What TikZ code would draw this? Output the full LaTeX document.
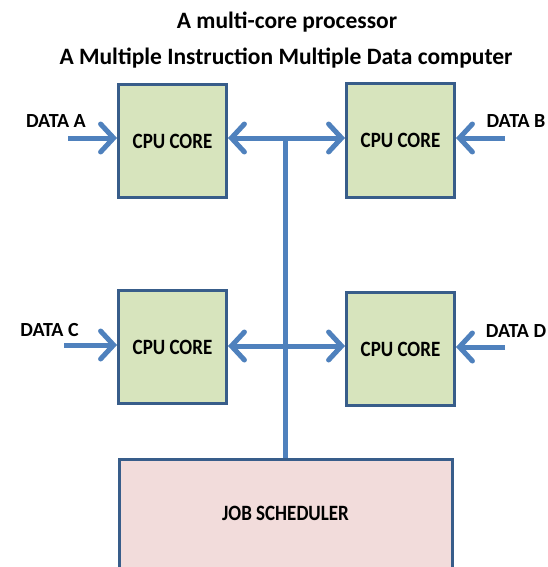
\documentclass[tikz,border=0pt]{standalone}
\usepackage{fontspec}
\setmainfont{Carlito}
\usetikzlibrary{arrows.meta}
\definecolor{corefill}{HTML}{D7E4BD}
\definecolor{jobfill}{HTML}{F2DCDB}
\definecolor{edge}{HTML}{385D8A}
\definecolor{flow}{HTML}{4F81BD}
\newcommand{\tallbox}[1]{\scalebox{1}[1.15]{#1}}
\tikzset{
  core/.style={draw=edge, line width=3pt, fill=corefill, minimum width=108pt, minimum height=113pt, inner sep=0pt, font=\bfseries\fontsize{19}{21}\selectfont},
  jobbox/.style={draw=edge, line width=3pt, fill=jobfill, minimum width=333pt, minimum height=130pt, inner sep=0pt},
  lbl/.style={font=\bfseries\fontsize{19}{21}\selectfont, inner sep=0pt},
  datalbl/.style={font=\bfseries\fontsize{20}{22}\selectfont, inner sep=0pt},
  ttl/.style={font=\bfseries\fontsize{23.5}{26}\selectfont, inner sep=0pt},
  flowarrow/.style={draw=flow, line width=5pt, -{Straight Barb[length=13pt, width=28pt, line cap=round]}},
  busline/.style={draw=flow, line width=5pt}
}
\begin{document}
\begin{tikzpicture}[x=1pt, y=-1pt]
\useasboundingbox (0,0) rectangle (548,567);
\clip (0,0) rectangle (548,567);
\fill[white] (0,0) rectangle (548,567);
\node[ttl] (t1) at (287,22) {A multi-core processor};
\node[ttl] (t2) at (286,58) {A Multiple Instruction Multiple Data computer};
\node[core] (ca) at (172.5,141) {\tallbox{CPU CORE}};
\node[core] (cb) at (400.5,140.5) {\tallbox{CPU CORE}};
\node[core] (cc) at (172.5,347) {\tallbox{CPU CORE}};
\node[core] (cd) at (400.5,349) {\tallbox{CPU CORE}};
\node[jobbox, anchor=north] (js) at (286,458) {};
\node[lbl] (jst) at (285.5,513) {\tallbox{JOB SCHEDULER}};
\coordinate (bustop) at (285,138);
\coordinate (busmid) at (285,346);
\draw[busline] (bustop) -- (js.north -| bustop);
\draw[flowarrow] (bustop) -- (ca.east |- bustop);
\draw[flowarrow] (bustop) -- (cb.west |- bustop);
\draw[flowarrow] (busmid) -- (cc.east |- busmid);
\draw[flowarrow] (busmid) -- (cd.west |- busmid);
\node[datalbl] (da) at (56,121) {DATA A};
\node[datalbl] (db) at (516,121) {DATA B};
\node[datalbl] (dc) at (49.5,330) {DATA C};
\node[datalbl] (dd) at (516,331.5) {DATA D};
\coordinate (sa) at (68,138);
\coordinate (sb) at (505,138);
\coordinate (sc) at (64,345);
\coordinate (sd) at (505,347);
\draw[flowarrow] (sa) -- (ca.west |- sa);
\draw[flowarrow] (sb) -- (cb.east |- sb);
\draw[flowarrow] (sc) -- (cc.west |- sc);
\draw[flowarrow] (sd) -- (cd.east |- sd);
\end{tikzpicture}
\end{document}
